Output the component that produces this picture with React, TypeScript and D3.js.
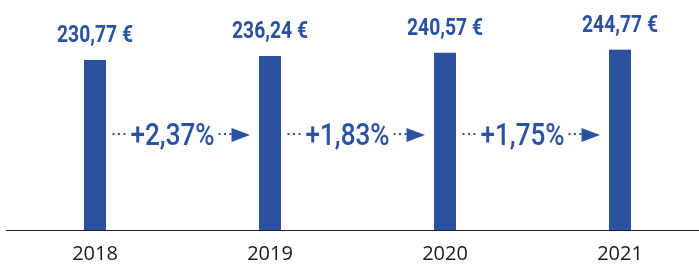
import React from 'react';
import * as d3 from 'd3';

// 데이터
const years = ['2018', '2019', '2020', '2021'];
const values = [230.77, 236.24, 240.57, 244.77];
const valueLabels = ['230,77 €', '236,24 €', '240,57 €', '244,77 €'];
const changeLabels = ['+2,37%', '+1,83%', '+1,75%'];

const BLUE = '#2a52a1';

export default function App() {
  const width = 699;
  const height = 266;
  const baseline = 230.5;

  const x = d3.scalePoint<string>().domain(years).range([95, 620]);
  const y = d3.scaleLinear().domain([0, 312]).range([baseline, 0]);
  const barWidth = 22;

  return (
    <div style={{ position: 'fixed', left: 0, top: 0 }}>
      <svg width={width} height={height} style={{ display: 'block' }}>
        {/* 막대 */}
        {years.map((yr, i) => (
          <rect
            key={yr}
            x={(x(yr) as number) - barWidth / 2}
            y={y(values[i])}
            width={barWidth}
            height={baseline - y(values[i])}
            fill={BLUE}
          />
        ))}

        {/* 값 라벨 */}
        {years.map((yr, i) => (
          <text
            key={'v' + yr}
            transform={`translate(${x(yr)}, ${y(values[i]) - 18}) scale(0.84, 1)`}
            textAnchor="middle"
            fill={BLUE}
            fontFamily="Roboto"
            fontWeight={700}
            fontSize={23}>
            {valueLabels[i]}
          </text>
        ))}

        {/* 증가율 + 화살표 */}
        {changeLabels.map((label, i) => {
          const m = ((x(years[i]) as number) + (x(years[i + 1]) as number)) / 2;
          const dotY = 134;
          return (
            <g key={label}>
              {[-70, -64.5, -59].map((dx) => (
                <rect key={'l' + dx} x={m + dx} y={dotY - 1} width={2} height={2} fill={BLUE} />
              ))}
              <text
                transform={`translate(${m - 10}, 145) scale(0.83, 1)`}
                textAnchor="middle"
                fill={BLUE}
                fontFamily="Roboto"
                fontWeight={500}
                fontSize={31.5}>
                {label}
              </text>
              {[36, 41.5, 47].map((dx) => (
                <rect key={'r' + dx} x={m + dx} y={dotY - 1} width={2} height={2} fill={BLUE} />
              ))}
              <path
                d={`M${m + 49},${128} L${m + 67.5},${135} L${m + 49},${142} Z`}
                fill={BLUE}
              />
            </g>
          );
        })}

        {/* 축 */}
        <line x1={6} x2={width} y1={baseline} y2={baseline} stroke="#222" strokeWidth={1} />

        {years.map((yr) => (
          <text
            key={'y' + yr}
            x={x(yr)}
            y={260}
            textAnchor="middle"
            fill="#1a1a1a"
            fontFamily="Open Sans"
            fontSize={20}>
            {yr}
          </text>
        ))}
      </svg>
    </div>
  );
}
